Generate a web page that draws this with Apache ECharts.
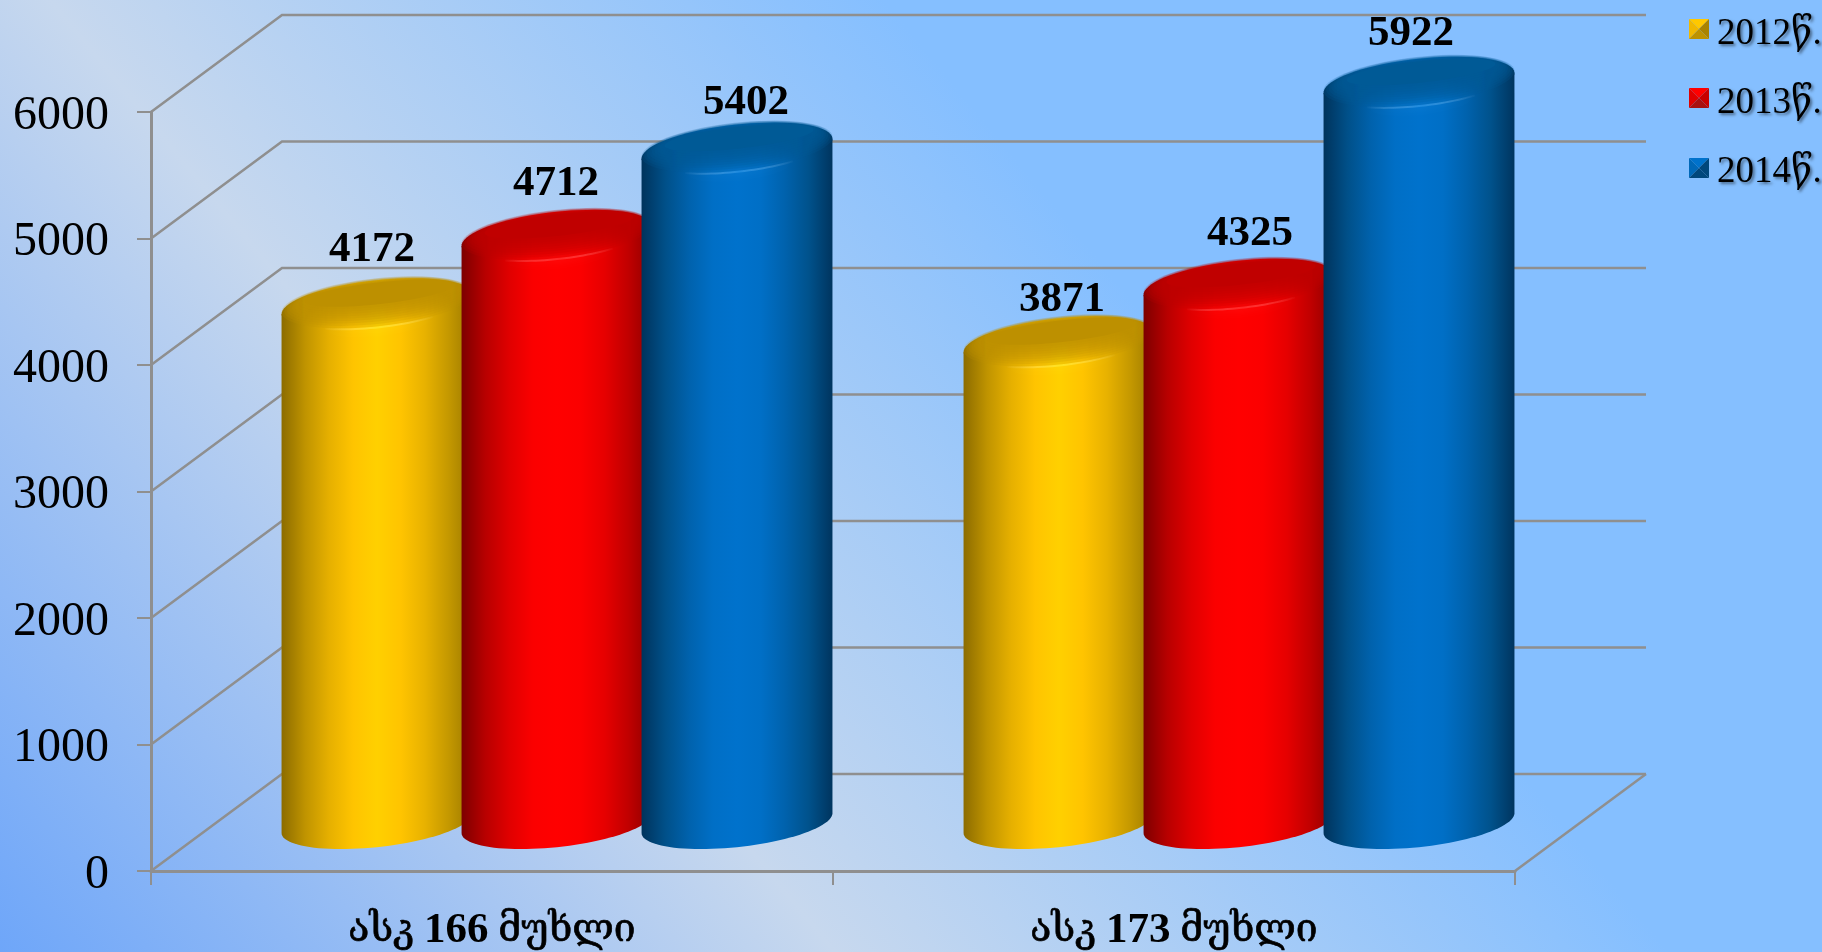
<!DOCTYPE html>
<html>
<head>
<meta charset="utf-8">
<title>ასკ 166 / 173</title>
<script src="https://cdn.jsdelivr.net/npm/echarts@6/dist/echarts.min.js"></script>
<style>
  html, body { margin: 0; padding: 0; overflow: hidden; }
  #chart { width: 1822px; height: 952px; }
</style>
</head>
<body>
<div id="chart"></div>
<script>
// chart data
const categories = ["ასკ 166 მუხლი", "ასკ 173 მუხლი"];
const values2012 = [4172, 3871];
const values2013 = [4712, 4325];
const values2014 = [5402, 5922];
const yTicks = [0, 1000, 2000, 3000, 4000, 5000, 6000];

// look of the fake 3D box and cylinders (pixels)
const DEPTH_X = 131, DEPTH_Y = -97;
const CYL_DX = 65, CYL_DY = -39, CYL_BASE_LIFT = 11;
const CYL_STEP = 180, CYL_A = 96, CYL_B = 24, CYL_TILT = 6.3 * Math.PI / 180;
const LABEL_NUDGE = { 2012: [-5, 2], 2013: [-1, 4], 2014: [9, 10] };
const LABEL_NUDGE_2 = { 2012: [3, 14], 2013: [11, 5], 2014: [-8, 7] };

const GRID_COLOR = "#8f8f8f";
const SERIF = "'Liberation Serif', 'DejaVu Serif', serif";

const palette = [
  { name: "2012წ.", values: values2012, year: 2012, slot: -1,
    stops: ["#8c6c00", "#c09400", "#e6b000", "#ffc400", "#ffd000", "#ffc400", "#e8b200", "#c49800", "#9a7800"],
    top: "#bd9000", glow: "#fff23a", swatch: ["#ffc800", "#f0b800", "#a98300", "#bd9200"] },
  { name: "2013წ.", values: values2013, year: 2013, slot: 0,
    stops: ["#7d0000", "#b80000", "#e00000", "#fb0000", "#ff0000", "#fb0000", "#e60000", "#c00000", "#8c0000"],
    top: "#c00000", glow: "#ff4a4a", swatch: ["#ff0000", "#e00000", "#c80000", "#a81010"] },
  { name: "2014წ.", values: values2014, year: 2014, slot: 1,
    stops: ["#00335c", "#005089", "#0062ad", "#006fc6", "#0072cc", "#006fc6", "#0062ad", "#00528c", "#00355f"],
    top: "#005a96", glow: "#3aa0ee", swatch: ["#0072cc", "#0068b8", "#00477c", "#00477c"] }
];

function ellipsePoint(cx, cy, a, b, t) {
  const c = Math.cos(CYL_TILT), s = Math.sin(CYL_TILT);
  return [
    cx + a * Math.cos(t) * c + b * Math.sin(t) * s,
    cy - a * Math.cos(t) * s + b * Math.sin(t) * c
  ];
}

function ellipsePoly(cx, cy, a, b) {
  const pts = [];
  for (let i = 0; i < 72; i++) pts.push(ellipsePoint(cx, cy, a, b, i / 72 * Math.PI * 2));
  return pts;
}

// side of the cylinder: left edge, lower arc of the foot, right edge
function bodyPoly(cx, topY, footY) {
  const t0 = Math.atan2(CYL_B * Math.sin(CYL_TILT), CYL_A * Math.cos(CYL_TILT));
  const pts = [ellipsePoint(cx, topY, CYL_A, CYL_B, t0 + Math.PI)];
  for (let i = 0; i <= 48; i++) {
    pts.push(ellipsePoint(cx, footY, CYL_A, CYL_B, t0 + Math.PI - i / 48 * Math.PI));
  }
  pts.push(ellipsePoint(cx, topY, CYL_A, CYL_B, t0));
  return pts;
}

function sideGradient(stops) {
  return new echarts.graphic.LinearGradient(0, 0, 1, 0,
    stops.map((color, i) => ({ offset: i / (stops.length - 1), color })));
}

function cylinderItem(p, params, api) {
  const idx = api.value(0), val = api.value(1);
  const valuePt = api.coord([idx, val]);
  const zeroPt = api.coord([idx, 0]);
  const cx = valuePt[0] + CYL_DX + p.slot * CYL_STEP;
  const topY = valuePt[1] + CYL_DY;
  const footY = zeroPt[1] + CYL_DY - CYL_BASE_LIFT + 2;
  const fill = sideGradient(p.stops);
  const children = [
    { type: "polygon", shape: { points: bodyPoly(cx, topY, footY) }, style: { fill } },
    { type: "polygon", shape: { points: ellipsePoly(cx, topY, CYL_A, CYL_B) }, style: { fill } }
  ];
  // small shine on the front of the rim, soft, sits under the dark disc
  const shine = [];
  for (let i = 0; i <= 24; i++) {
    shine.push(ellipsePoint(cx, topY, CYL_A * 0.96, CYL_B * 0.96, Math.PI * (0.7 - 0.4 * i / 24)));
  }
  children.push({
    type: "polyline",
    shape: { points: shine },
    style: {
      fill: null, lineWidth: 2, opacity: 0.5,
      shadowBlur: 8, shadowColor: p.glow,
      stroke: new echarts.graphic.LinearGradient(0, 0, 1, 0, [
        { offset: 0, color: "rgba(255,255,255,0)" },
        { offset: 0.5, color: p.glow },
        { offset: 1, color: "rgba(255,255,255,0)" }
      ])
    }
  });
  // bevel: dark disc shifted to the back, stacked so that the rim fades out
  for (let k = 0; k < 10; k++) {
    const f = k / 9;
    children.push({
      type: "polygon",
      shape: { points: ellipsePoly(cx + 2 * f, topY - 9 * f - 2, CYL_A * (1 - 0.22 * f), CYL_B * (1 - 0.55 * f)) },
      style: { fill: p.top, opacity: k === 9 ? 1 : 0.2 }
    });
  }
  const nudge = (idx === 0 ? LABEL_NUDGE : LABEL_NUDGE_2)[p.year];
  children.push({
    type: "text",
    z2: 50,
    style: {
      x: cx + nudge[0],
      y: topY - 56 + nudge[1],
      text: String(val),
      align: "center",
      verticalAlign: "middle",
      fill: "#000",
      font: "bold 43px " + SERIF
    }
  });
  return { type: "group", children };
}

// receding lines of the side wall, back wall lines and the floor edge
function wallItem(params, api) {
  const y = api.coord([0, api.value(0)])[1];
  const box = params.coordSys;
  const lineStyle = { stroke: GRID_COLOR, lineWidth: 2.5, fill: null };
  const children = [{
    type: "polyline",
    shape: { points: [[box.x, y], [box.x + DEPTH_X, y + DEPTH_Y], [box.x + box.width + DEPTH_X, y + DEPTH_Y]] },
    style: lineStyle
  }];
  if (api.value(0) === 0) {
    children.push({
      type: "line",
      shape: { x1: box.x + box.width, y1: y, x2: box.x + box.width + DEPTH_X, y2: y + DEPTH_Y },
      style: lineStyle
    });
  }
  return { type: "group", children };
}

// pyramid shading of a legend key
function legendKey(x, y, colors) {
  const s = 20, mid = [x + s / 2, y + s / 2];
  const corners = [[x, y], [x + s, y], [x + s, y + s], [x, y + s]];
  // order of colors: top, left, right, bottom
  const faces = [[0, 1, colors[0]], [3, 0, colors[1]], [1, 2, colors[2]], [2, 3, colors[3]]];
  return faces.map(f => ({
    type: "polygon",
    shape: { points: [corners[f[0]], corners[f[1]], mid] },
    style: { fill: f[2] }
  }));
}

// digits of the category labels are bold, the Georgian words are not
function categoryLabel(text) {
  return text.replace(/\d+/, m => "{b|" + m + "}");
}

const chart = echarts.init(document.getElementById("chart"), null, { renderer: "canvas" });

const option = {
  animation: false,
  backgroundColor: {
    type: "linear", global: true, x: 0, y: 952, x2: 1553, y2: -328,
    colorStops: [
      { offset: 0, color: "#6ea6f9" },
      { offset: 0.32, color: "#c7d8ee" },
      { offset: 0.64, color: "#85bfff" },
      { offset: 1, color: "#85bfff" }
    ]
  },
  grid: { left: 151, right: 307, top: 112, bottom: 78, containLabel: false },
  legend: {
    data: palette.map(p => p.name),
    orient: "vertical",
    left: 1689,
    top: 11,
    itemWidth: 20,
    itemHeight: 20,
    itemGap: 32,
    icon: "rect",
    itemStyle: { opacity: 0 },
    textStyle: {
      fontFamily: SERIF,
      fontSize: 37,
      color: "#000",
      padding: [0, 0, 0, -2],
      textShadowColor: "rgba(0,0,0,0.45)",
      textShadowBlur: 3,
      textShadowOffsetX: 2,
      textShadowOffsetY: 2
    }
  },
  xAxis: {
    type: "category",
    data: categories,
    axisLine: { lineStyle: { color: GRID_COLOR, width: 3 } },
    axisTick: { show: true, alignWithLabel: false, length: 14, lineStyle: { color: GRID_COLOR, width: 2 } },
    axisLabel: {
      formatter: categoryLabel,
      fontFamily: SERIF,
      fontSize: 39,
      color: "#000",
      textBorderColor: "#000",
      textBorderWidth: 0.7,
      margin: 38,
      rich: {
        b: { fontFamily: SERIF, fontSize: 43, fontWeight: "bold", color: "#000", textBorderWidth: 0 }
      }
    }
  },
  yAxis: {
    type: "value",
    min: 0,
    max: 6000,
    interval: 1000,
    axisLine: { show: true, lineStyle: { color: GRID_COLOR, width: 3 } },
    axisTick: { show: true, length: 14, lineStyle: { color: GRID_COLOR, width: 2 } },
    splitLine: { show: false },
    axisLabel: {
      formatter: v => String(v),
      fontFamily: SERIF,
      fontSize: 48,
      color: "#000",
      margin: 42,
      verticalAlign: "top",
      lineHeight: 8
    }
  },
  graphic: [
    ...legendKey(1689, 19, palette[0].swatch),
    ...legendKey(1689, 88, palette[1].swatch),
    ...legendKey(1689, 158, palette[2].swatch)
  ],
  series: [
    {
      type: "custom",
      name: "wall",
      silent: true,
      z: 1,
      data: yTicks.map(v => [v]),
      encode: { y: 0 },
      renderItem: wallItem
    },
    ...palette.map(p => ({
      type: "custom",
      name: p.name,
      z: 2,
      itemStyle: { color: p.stops[4] },
      data: p.values.map((v, i) => [i, v]),
      encode: { x: 0, y: 1 },
      clip: false,
      renderItem: (params, api) => cylinderItem(p, params, api)
    }))
  ]
};

chart.setOption(option);
</script>
</body>
</html>
